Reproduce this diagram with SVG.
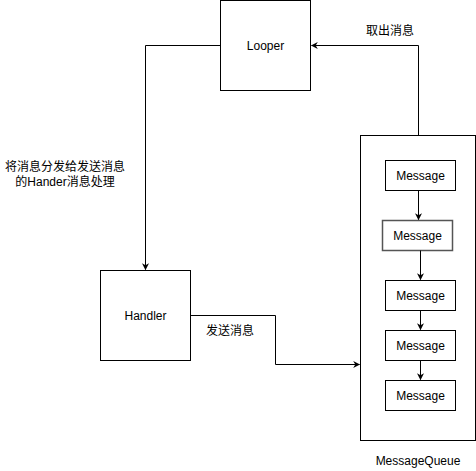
<svg xmlns="http://www.w3.org/2000/svg" width="476" height="471" viewBox="0 0 476 471">
<style>
.box{fill:#fff;stroke:#000;stroke-width:1}
.t{font-family:"Liberation Sans","Noto Sans CJK SC",sans-serif;font-size:12px;fill:#000;text-anchor:middle}
.c{fill:none;stroke:#000;stroke-width:1}
</style>
<defs>
<marker id="a" viewBox="0 0 10 10" refX="9" refY="5" markerWidth="7" markerHeight="7" markerUnits="userSpaceOnUse" orient="auto">
<path d="M0,0 L10,5 L0,10 L3,5 Z" fill="#000"/>
</marker>
</defs>
<rect width="476" height="471" fill="#fff"/>
<g id="looper"><rect class="box" x="220.5" y="0.5" width="90" height="90"/><text class="t" x="265.5" y="50">Looper</text></g>
<g id="handler"><rect class="box" x="100.5" y="270.5" width="90" height="90"/><text class="t" x="145.5" y="320">Handler</text></g>
<g id="queue"><rect class="box" x="360.5" y="135.5" width="115" height="305"/><text class="t" x="418" y="465">MessageQueue</text></g>
<g id="m1"><rect class="box" x="385.5" y="160.5" width="70" height="30"/><text class="t" x="420.5" y="180">Message</text></g>
<g id="m2"><rect class="box" x="382.5" y="220.5" width="70" height="30" style="stroke:#555;stroke-width:1.5"/><text class="t" x="417.5" y="240">Message</text></g>
<g id="m3"><rect class="box" x="385.5" y="280.5" width="70" height="30"/><text class="t" x="420.5" y="300">Message</text></g>
<g id="m4"><rect class="box" x="385.5" y="330.5" width="70" height="30"/><text class="t" x="420.5" y="350">Message</text></g>
<g id="m5"><rect class="box" x="385.5" y="380.5" width="70" height="30"/><text class="t" x="420.5" y="400">Message</text></g>
<g id="connectors">
<path class="c" d="M220.5,45.5 H145.5 V269.5" marker-end="url(#a)"/>
<path class="c" d="M190.5,315.5 H275.5 V364.5 H359.5" marker-end="url(#a)"/>
<path class="c" d="M418.5,135.5 V45.5 H311.5" marker-end="url(#a)"/>
<path class="c" d="M418.5,190.5 V219.5" marker-end="url(#a)"/>
<path class="c" d="M420.5,250.5 V279.5" marker-end="url(#a)"/>
<path class="c" d="M420.5,310.5 V329.5" marker-end="url(#a)"/>
<path class="c" d="M420.5,360.5 V379.5" marker-end="url(#a)"/>
</g>
<g id="labels">
<text class="t" x="390" y="35">取出消息</text>
<text class="t" x="65" y="171">将消息分发给发送消息</text>
<text class="t" x="65" y="186">的Hander消息处理</text>
<text class="t" x="230" y="335">发送消息</text>
</g>
</svg>
